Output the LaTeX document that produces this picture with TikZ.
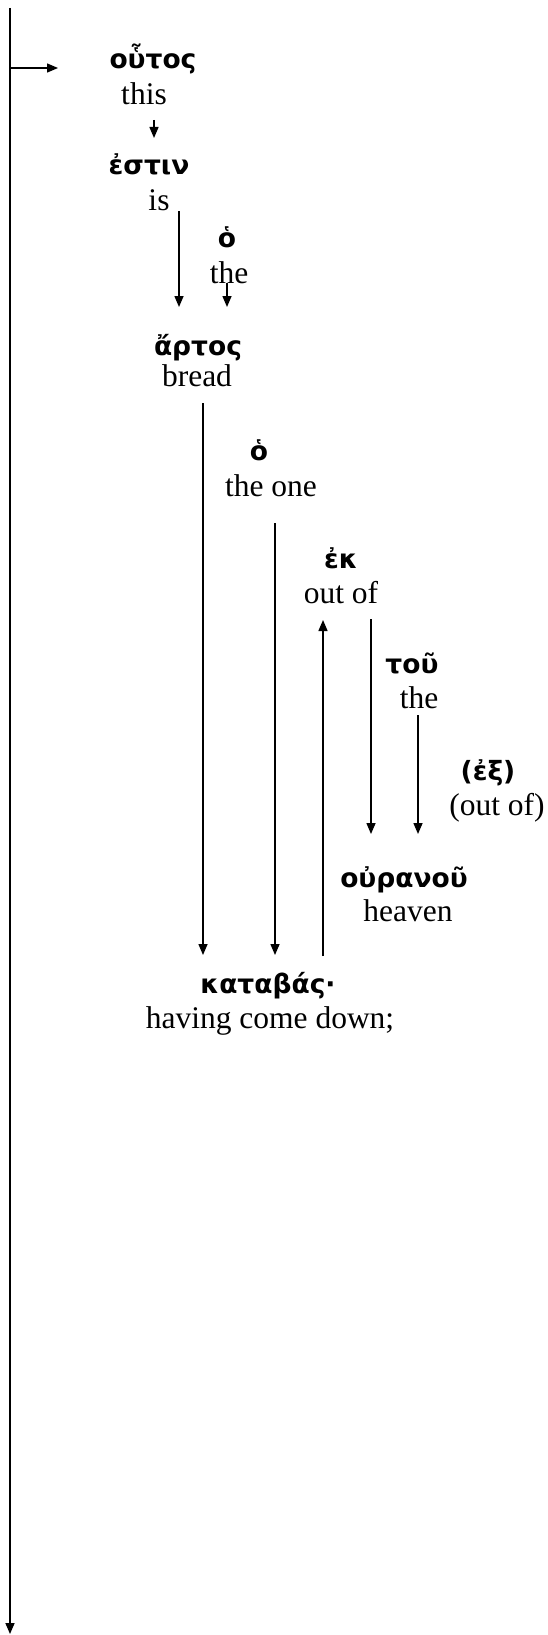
\documentclass[tikz,border=0pt]{standalone}
\usepackage{fontspec}
\setmainfont{Liberation Serif}
\newfontfamily\grk[Script=Greek]{DejaVu Sans}
\usetikzlibrary{arrows.meta}
\tikzset{
  gk/.style={anchor=base,inner sep=0pt,font=\grk\bfseries\fontsize{26.5}{32}\selectfont},
  en/.style={anchor=base,inner sep=0pt,font=\fontsize{31.5}{38}\selectfont},
  arr/.style={line width=1.5pt,-{Triangle[length=11pt,width=9pt]}}
}
\begin{document}
\begin{tikzpicture}[x=1pt,y=-1pt]
\path[use as bounding box] (0,0) rectangle (547,1635);
% words
\node[gk] (outos) at (153,69) {οὗτος};
\node[en] (this) at (144,105) {this};
\node[gk] (estin) at (149,175) {ἐστιν};
\node[en] (is) at (159,210) {is};
\node[gk] (hoA) at (227,247) {ὁ};
\node[en] (theA) at (229,283) {the};
\node[gk] (artos) at (198,355) {ἄρτος};
\node[en] (bread) at (197,386) {bread};
\node[gk] (hoB) at (259,460) {ὁ};
\node[en] (theone) at (271,496) {the one};
\node[gk] (ek) at (341,568) {ἐκ};
\node[en] (outof) at (341,603) {out of};
\node[gk] (tou) at (412,673) {τοῦ};
\node[en] (theB) at (419,708) {the};
\node[gk] (ex) at (488,780) {(ἐξ)};
\node[en] (outofB) at (497,815) {(out of)};
\node[gk] (ouranou) at (404,887) {οὐρανοῦ};
\node[en] (heaven) at (408,921) {heaven};
\node[gk] (katabas) at (268,993) {καταβάς·};
\node[en] (having) at (270,1028) {having come down;};
% connector ends
\coordinate (top) at (10,8);
\coordinate (bottom) at (10,1634);
\coordinate (hs) at (10,68);
\coordinate (he) at (58,68);
\coordinate (thisS) at (154,120);
\coordinate (estinN) at (154,138);
\coordinate (isS) at (179,211);
\coordinate (artosNa) at (179,307);
\coordinate (theAS) at (227,283);
\coordinate (artosNb) at (227,307);
\coordinate (breadS) at (203,403);
\coordinate (katNa) at (203,955);
\coordinate (theoneS) at (275,523);
\coordinate (katNb) at (275,955);
\coordinate (katNc) at (323,956);
\coordinate (outofS) at (323,620);
\coordinate (outofSb) at (371,619);
\coordinate (ouraNa) at (371,834);
\coordinate (theBS) at (418,715);
\coordinate (ouraNb) at (418,834);
% connectors
\draw[arr] (top) -- (bottom);
\draw[arr] (hs) -- (he);
\draw[arr] (thisS) -- (estinN);
\draw[arr] (isS) -- (artosNa);
\draw[arr] (theAS) -- (artosNb);
\draw[arr] (breadS) -- (katNa);
\draw[arr] (theoneS) -- (katNb);
\draw[arr] (katNc) -- (outofS);
\draw[arr] (outofSb) -- (ouraNa);
\draw[arr] (theBS) -- (ouraNb);
\end{tikzpicture}
\end{document}
